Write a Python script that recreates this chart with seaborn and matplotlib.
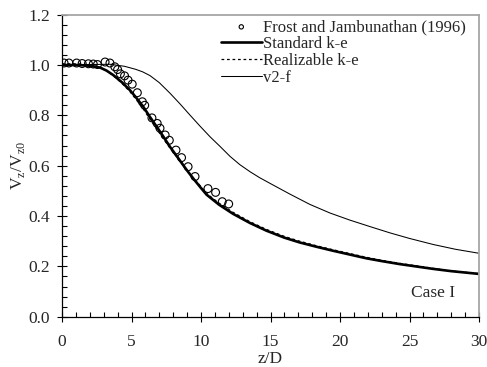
import numpy as np
import pandas as pd
import matplotlib
matplotlib.use("Agg")
import matplotlib.pyplot as plt
import seaborn as sns
from matplotlib.ticker import MultipleLocator

# ---------------- data ----------------
exp_x = [0.15, 0.5, 1.05, 1.45, 1.9, 2.25, 2.55, 3.1, 3.45, 3.8, 4.0, 4.2, 4.5, 4.75,
         5.05, 5.42, 5.78, 5.95, 6.47, 6.85, 7.05, 7.42, 7.72, 8.2, 8.6, 9.07, 9.57,
         10.5, 11.05, 11.53, 11.99]
exp_y = [1.008, 1.008, 1.008, 1.006, 1.005, 1.004, 1.002, 1.012, 1.008, 0.993, 0.982,
         0.965, 0.957, 0.940, 0.924, 0.890, 0.854, 0.840, 0.790, 0.768, 0.749, 0.722,
         0.701, 0.662, 0.632, 0.596, 0.557, 0.509, 0.494, 0.457, 0.448]

ske_x = [0, 1.0, 1.5, 2.0, 2.73, 3.2, 3.69, 4.3, 4.89, 5.4, 5.85, 6.3, 6.81, 7.3, 7.77,
         8.4, 8.97, 9.4, 9.93, 10.4, 11.3, 12.3, 13.5, 14.7, 16.0, 17.1, 18.3, 19.5,
         21.9, 23.0, 24.3, 26.7, 28.0, 30.0]
ske_y = [1.0, 1.0, 0.999, 0.997, 0.99, 0.978, 0.96, 0.932, 0.90, 0.866, 0.834, 0.796,
         0.755, 0.715, 0.675, 0.627, 0.583, 0.552, 0.516, 0.485, 0.445, 0.409, 0.373,
         0.342, 0.314, 0.295, 0.278, 0.262, 0.232, 0.221, 0.209, 0.190, 0.181, 0.170]

rke_x = [0, 1.0, 1.5, 2.0, 2.73, 3.2, 3.69, 4.3, 4.89, 5.4, 5.85, 6.3, 6.81, 7.3, 7.77,
         8.4, 8.97, 9.4, 9.93, 10.4, 11.3, 12.3, 13.5, 14.7, 16.0, 17.1, 18.3, 19.5,
         21.9, 23.0, 24.3, 26.7, 28.0, 30.0]
rke_y = [1.005, 1.005, 1.004, 1.001, 0.992, 0.978, 0.958, 0.928, 0.894, 0.858, 0.825,
         0.787, 0.746, 0.707, 0.670, 0.625, 0.584, 0.555, 0.521, 0.490, 0.451, 0.415,
         0.378, 0.347, 0.319, 0.300, 0.282, 0.266, 0.236, 0.224, 0.212, 0.192, 0.182, 0.171]

v2f_x = [0, 2.0, 3.45, 4.5, 5.3, 5.8, 6.33, 7.0, 7.77, 8.5, 9.21, 9.9, 10.65, 11.4,
         12.09, 12.8, 13.53, 14.2, 14.96, 16.4, 17.84, 19.28, 20.7, 22.16, 23.6, 25.0,
         26.7, 28.3, 30.0]
v2f_y = [1.0, 1.002, 1.003, 0.995, 0.983, 0.973, 0.958, 0.930, 0.888, 0.845, 0.801,
         0.759, 0.715, 0.675, 0.637, 0.604, 0.576, 0.553, 0.530, 0.487, 0.446, 0.412,
         0.384, 0.358, 0.333, 0.311, 0.287, 0.268, 0.252]

labels = ["Frost and Jambunathan (1996)", "Standard k-e", "Realizable k-e", "v2-f"]
x_ticks = [0, 5, 10, 15, 20, 25, 30]
y_ticks = [0.0, 0.2, 0.4, 0.6, 0.8, 1.0, 1.2]

# ---------------- style ----------------
sns.set_style("ticks")
plt.rcParams["font.family"] = ["Liberation Serif", "DejaVu Serif"]
plt.rcParams["mathtext.fontset"] = "custom"
plt.rcParams["mathtext.rm"] = "Liberation Serif"

fig = plt.figure(figsize=(4.87, 3.67), dpi=100)
ax = fig.add_axes([62/487, 1 - 316.7/367, (479-62)/487, (316.7-14.7)/367])

sns.scatterplot(x=exp_x, y=exp_y, ax=ax, marker="o", s=32, facecolor="none",
                edgecolor="black", linewidth=0.8, label=labels[0], zorder=5)
sns.lineplot(x=ske_x, y=ske_y, ax=ax, color="black", lw=1.9, label=labels[1])
sns.lineplot(x=rke_x, y=rke_y, ax=ax, color="black", lw=0.9, ls=(0, (2.2, 2.2)),
             label=labels[2])
sns.lineplot(x=v2f_x, y=v2f_y, ax=ax, color="black", lw=0.75, label=labels[3])

ax.set_xlim(0, 30)
ax.set_ylim(0, 1.2)
ax.set_xticks(x_ticks)
ax.set_yticks(y_ticks)
ax.set_xticklabels([str(v) for v in x_ticks])
ax.set_yticklabels([f"{v:.1f}" for v in y_ticks])
ax.xaxis.set_minor_locator(MultipleLocator(1))
ax.yaxis.set_minor_locator(MultipleLocator(0.04))
ax.tick_params(which="major", direction="inout", length=7, width=0.8,
               labelsize=12.5, color="black")
ax.tick_params(which="minor", direction="in", length=3.5, width=0.8, color="black")
ax.tick_params(axis="x", which="major", pad=9)
ax.tick_params(axis="y", which="major", pad=5)

for s in ["left", "bottom"]:
    ax.spines[s].set_color("black")
    ax.spines[s].set_linewidth(0.9)
for s in ["top", "right"]:
    ax.spines[s].set_visible(True)
    ax.spines[s].set_color("#a6a6a6")
    ax.spines[s].set_linewidth(1.3)

ax.set_xlabel("z/D", fontsize=12.5, labelpad=1)
ax.set_ylabel(r"V$_\mathregular{z}$/V$_\mathregular{z0}$", fontsize=12.5, labelpad=1)

ax.text(26.7, 0.095, "Case I", fontsize=12.5, ha="center", va="center")

leg = ax.legend(loc="upper left", bbox_to_anchor=(0.381, 0.985), frameon=False,
                fontsize=12, handlelength=2.45, handletextpad=0.05,
                labelspacing=0.05, borderpad=0, borderaxespad=0, markerscale=0.55)

fig.savefig("out.png", dpi=100)
